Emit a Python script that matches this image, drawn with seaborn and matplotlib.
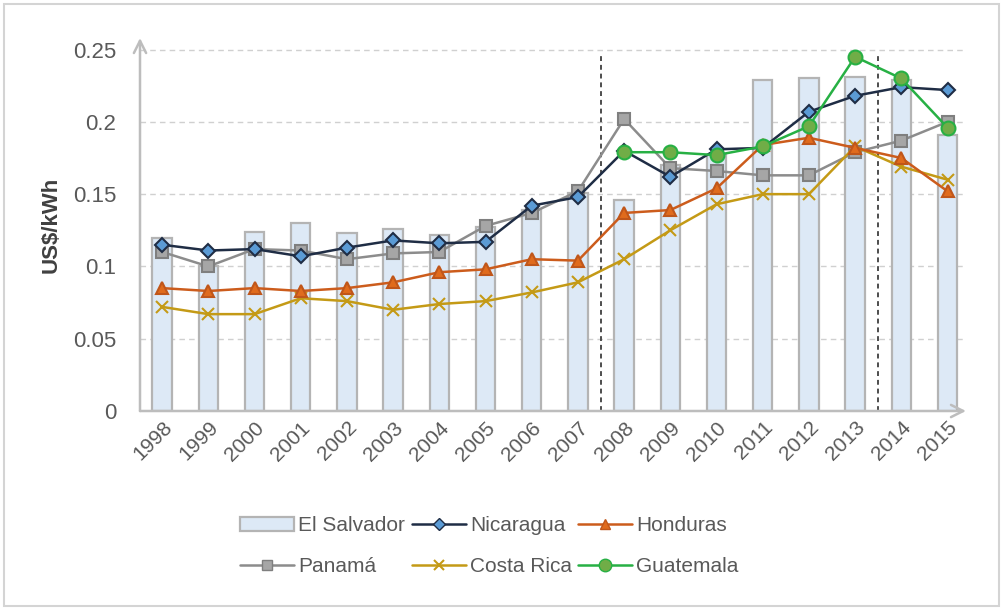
import numpy as np
import pandas as pd
import matplotlib
matplotlib.use("Agg")
import matplotlib.pyplot as plt
from matplotlib.patches import Patch, Rectangle
from matplotlib.lines import Line2D
from matplotlib.ticker import FixedLocator
import seaborn as sns

years = [str(y) for y in range(1998, 2016)]
el_salvador = [0.120, 0.100, 0.124, 0.130, 0.123, 0.126, 0.122, 0.127, 0.139, 0.151,
               0.146, 0.170, 0.177, 0.229, 0.230, 0.231, 0.229, 0.191]
nicaragua = [0.115, 0.111, 0.112, 0.107, 0.113, 0.118, 0.116, 0.117, 0.142, 0.148,
             0.180, 0.162, 0.181, 0.182, 0.207, 0.218, 0.224, 0.222]
honduras = [0.085, 0.083, 0.085, 0.083, 0.085, 0.089, 0.096, 0.098, 0.105, 0.104,
            0.137, 0.139, 0.154, 0.184, 0.189, 0.182, 0.175, 0.152]
panama = [0.110, 0.100, 0.112, 0.111, 0.105, 0.109, 0.110, 0.128, 0.137, 0.152,
          0.202, 0.168, 0.166, 0.163, 0.163, 0.179, 0.187, 0.200]
costa_rica = [0.072, 0.067, 0.067, 0.078, 0.076, 0.070, 0.074, 0.076, 0.082, 0.089,
              0.105, 0.125, 0.143, 0.150, 0.150, 0.183, 0.169, 0.160]
guatemala = [np.nan] * 10 + [0.179, 0.179, 0.177, 0.183, 0.197, 0.245, 0.230, 0.196]
y_ticks = [0, 0.05, 0.1, 0.15, 0.2, 0.25]
y_tick_labels = ["0", "0.05", "0.1", "0.15", "0.2", "0.25"]
period_breaks = [9.5, 15.5]

sns.set_style("white")
plt.rcParams['font.family'] = ['Liberation Sans', 'DejaVu Sans']

fig = plt.figure(figsize=(10.03, 6.09), dpi=100)
ax = fig.add_axes([140 / 1003, (609 - 411) / 609, (966 - 140) / 1003, (411 - 38) / 609])

idx = np.arange(len(years))
df = pd.DataFrame({"year": years, "idx": idx, "El Salvador": el_salvador,
                   "Nicaragua": nicaragua, "Honduras": honduras, "Panamá": panama,
                   "Costa Rica": costa_rica, "Guatemala": guatemala})

sns.barplot(data=df, x="year", y="El Salvador", ax=ax, color="#dde9f6", saturation=1,
            width=0.42, edgecolor="#b4b4b4", linewidth=1.6, zorder=2)

series = [
    ("Panamá", "#8c8c8c", "s", "#a6a6a6", "#7f7f7f", 8),
    ("Costa Rica", "#c49a16", "x", "#c49a16", "#c49a16", 8),
    ("Honduras", "#cc5c1c", "^", "#e06b1d", "#c0561a", 8),
    ("Nicaragua", "#1f2d45", "D", "#5b9bd5", "#1f2d45", 7),
    ("Guatemala", "#27b044", "o", "#70ad47", "#27b044", 10),
]
for name, col, mk, mfc, mec, ms in series:
    sub = df.dropna(subset=[name])
    sns.lineplot(data=sub, x="idx", y=name, ax=ax, color=col, linewidth=1.8,
                 marker=mk, markersize=ms, markerfacecolor=mfc, markeredgecolor=mec,
                 markeredgewidth=1.5, zorder=4, legend=False)

ax.vlines(period_breaks, 0, 0.247, colors="#4d4d4d", linestyles=(0, (2.5, 2)),
          linewidth=1.4, zorder=3)

ax.set_xlim(-0.48, 17.4)
ax.set_ylim(0, 0.258)
ax.yaxis.set_major_locator(FixedLocator(y_ticks))
ax.set_yticklabels(y_tick_labels)
for yv in y_ticks[1:]:
    ax.axhline(yv, color="#d0d0d0", linestyle=(0, (4, 3)), linewidth=1.0, zorder=1)

for s in ax.spines.values():
    s.set_visible(False)
ax.annotate("", xy=(0, 1), xytext=(0, 0), xycoords="axes fraction",
            arrowprops=dict(arrowstyle="->", color="#bdbdbd", lw=1.8, mutation_scale=22,
                            shrinkA=0, shrinkB=0), zorder=5)
ax.annotate("", xy=(1, 0), xytext=(0, 0), xycoords="axes fraction",
            arrowprops=dict(arrowstyle="->", color="#bdbdbd", lw=1.8, mutation_scale=22,
                            shrinkA=0, shrinkB=0), zorder=5)

ax.tick_params(axis="both", length=0, labelcolor="#595959", labelsize=16)
ax.tick_params(axis="y", pad=17)
ax.tick_params(axis="x", pad=5, labelsize=15)
ax.set_xticks(idx)
ax.set_xticklabels(years, rotation=45, ha="right", rotation_mode="anchor")
ax.set_xlabel("")
ax.set_ylabel("US$/kWh", fontsize=16, fontweight="bold", color="#404040", labelpad=8)

handles = [
    Patch(facecolor="#dde9f6", edgecolor="#b4b4b4", linewidth=1.6),
    Line2D([], [], color="#8c8c8c", marker="s", markersize=7, markerfacecolor="#a6a6a6",
           markeredgecolor="#7f7f7f", lw=1.8),
    Line2D([], [], color="#1f2d45", marker="D", markersize=6, markerfacecolor="#5b9bd5",
           markeredgecolor="#1f2d45", lw=1.8),
    Line2D([], [], color="#c49a16", marker="x", markersize=7, markeredgewidth=1.5, lw=1.8),
    Line2D([], [], color="#cc5c1c", marker="^", markersize=7, markerfacecolor="#e06b1d",
           markeredgecolor="#c0561a", lw=1.8),
    Line2D([], [], color="#27b044", marker="o", markersize=9, markerfacecolor="#70ad47",
           markeredgecolor="#27b044", lw=1.8),
]
labels = ["El Salvador", "Panamá", "Nicaragua", "Costa Rica", "Honduras", "Guatemala"]
leg = fig.legend(handles, labels, loc="center", bbox_to_anchor=(0.488, 0.103), ncol=3,
                 frameon=False, fontsize=15, handlelength=2.6, handletextpad=0.2,
                 columnspacing=0.3, labelspacing=1.05, handleheight=0.7)
for t in leg.get_texts():
    t.set_color("#595959")

fig.patches.append(Rectangle((4 / 1003, 3 / 609), 995 / 1003, 602 / 609,
                             transform=fig.transFigure, fill=False,
                             edgecolor="#d4d4d4", linewidth=1.5))

fig.savefig("out.png", dpi=100)
